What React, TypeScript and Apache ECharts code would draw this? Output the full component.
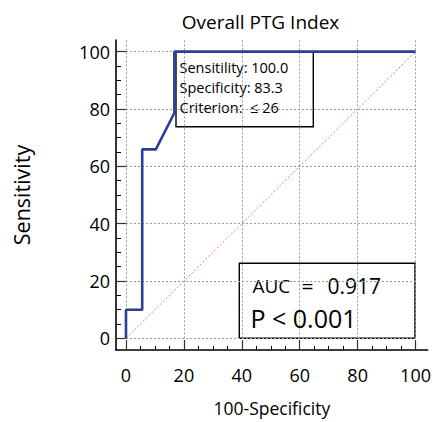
import React, { useEffect, useRef } from "react";
import * as echarts from "echarts";

const MAJOR_TICKS = [0, 20, 40, 60, 80, 100];
const MINOR_TICKS = [5, 10, 15, 25, 30, 35, 45, 50, 55, 65, 70, 75, 85, 90, 95];
const ROC_X = [0, 0, 5.6, 5.6, 10.3, 16.7, 16.7, 100];
const ROC_Y = [0, 10, 10, 65.9, 65.9, 78.6, 100, 100];
const DIAG_X = [0, 100];
const DIAG_Y = [0, 100];
const TITLE = "Overall PTG Index";
const X_NAME = "100-Specificity";
const Y_NAME = "Sensitivity";
const CRIT_LINES = ["Sensitility: 100.0", "Specificity: 83.3", "Criterion:  \u2264 26"];
const AUC_LABEL = "AUC";
const AUC_VALUE = "0.917";
const P_TEXT = "P < 0.001";

const X_MIN = -3.45;
const X_MAX = 104.2;
const Y_MIN = -4.06;
const Y_MAX = 104.06;
const FONT = "Open Sans";

export default function App() {
  const ref = useRef<HTMLDivElement>(null);
  useEffect(() => {
    const chart = echarts.init(ref.current!, null, { renderer: "svg" });
    const gridLines: any[] = [];
    MAJOR_TICKS.forEach((v) => {
      gridLines.push([{ coord: [v, 0] }, { coord: [v, Y_MAX] }]);
      gridLines.push([{ coord: [0, v] }, { coord: [100, v] }]);
    });
    const option: any = {
      animation: false,
      grid: { left: 116, right: 6, top: 40, bottom: 70.3, containLabel: false },
      xAxis: [
        {
          type: "value",
          min: X_MIN,
          max: X_MAX,
          position: "bottom",
          axisLine: { show: true, onZero: false, lineStyle: { color: "#000", width: 1.6 } },
          splitLine: { show: false },
          axisTick: { show: true, inside: true, length: 10, customValues: MAJOR_TICKS, lineStyle: { color: "#333", width: 1.2 } },
          axisLabel: { show: true, customValues: MAJOR_TICKS, fontSize: 18, fontFamily: FONT, color: "#000", margin: 16 },
          name: X_NAME,
          nameLocation: "middle",
          nameGap: 49,
          nameTextStyle: { fontSize: 17.5, fontFamily: FONT, color: "#000" },
        },
        {
          type: "value",
          min: X_MIN,
          max: X_MAX,
          position: "bottom",
          axisLine: { show: false, onZero: false },
          splitLine: { show: false },
          axisTick: { show: true, inside: true, length: 4, customValues: MINOR_TICKS, lineStyle: { color: "#000", width: 1 } },
          axisLabel: { show: false },
        },
      ],
      yAxis: [
        {
          type: "value",
          min: Y_MIN,
          max: Y_MAX,
          position: "left",
          axisLine: { show: true, onZero: false, lineStyle: { color: "#000", width: 1.6 } },
          splitLine: { show: false },
          axisTick: { show: true, inside: true, length: 10, customValues: MAJOR_TICKS, lineStyle: { color: "#333", width: 1.2 } },
          axisLabel: { show: true, customValues: MAJOR_TICKS, fontSize: 18, fontFamily: FONT, color: "#000", margin: 6 },
          name: Y_NAME,
          nameLocation: "middle",
          nameGap: 84,
          nameTextStyle: { fontSize: 21.5, fontFamily: FONT, color: "#000" },
        },
        {
          type: "value",
          min: Y_MIN,
          max: Y_MAX,
          position: "left",
          axisLine: { show: false, onZero: false },
          splitLine: { show: false },
          axisTick: { show: true, inside: true, length: 5, customValues: MINOR_TICKS, lineStyle: { color: "#000", width: 1 } },
          axisLabel: { show: false },
        },
      ],
      series: [
        {
          type: "line",
          xAxisIndex: 0,
          yAxisIndex: 0,
          z: 2,
          silent: true,
          symbol: "none",
          data: DIAG_X.map((x, i) => [x, DIAG_Y[i]]),
          lineStyle: { color: "#ec7b7b", width: 1, type: [2, 2] },
          markLine: {
            silent: true,
            symbol: ["none", "none"],
            label: { show: false },
            lineStyle: { color: "#9a9a9a", width: 1, type: [2, 2] },
            data: gridLines,
          },
        },
        {
          type: "line",
          xAxisIndex: 0,
          yAxisIndex: 0,
          z: 10,
          symbol: "none",
          data: ROC_X.map((x, i) => [x, ROC_Y[i]]),
          lineStyle: { color: "#2c3e98", width: 2.6 },
        },
      ],
      graphic: [
        {
          type: "text",
          x: 260.5,
          y: 22,
          z: 5,
          style: { text: TITLE, fontSize: 19, fontFamily: FONT, fill: "#000", textAlign: "center", textVerticalAlign: "middle" },
        },
        {
          type: "rect",
          z: 3,
          shape: { x: 176, y: 51.7, width: 137.3, height: 75 },
          style: { fill: "#fff", stroke: "#000", lineWidth: 1.4 },
        },
        ...CRIT_LINES.map((t, i) => ({
          type: "text",
          x: 179.5,
          y: 67.3 + i * 20,
          z: 4,
          style: { text: t, fontSize: 14.5, fontFamily: FONT, fill: "#000", textAlign: "left", textVerticalAlign: "middle" },
        })),
        {
          type: "rect",
          z: 3,
          shape: { x: 239.3, y: 263.3, width: 175.7, height: 75 },
          style: { fill: "#fff", stroke: "#000", lineWidth: 1.4 },
        },
        {
          type: "text",
          x: 252.5,
          y: 286,
          z: 4,
          style: { text: AUC_LABEL, fontSize: 19, fontFamily: FONT, fill: "#000", textAlign: "left", textVerticalAlign: "middle" },
        },
        {
          type: "text",
          x: 301.5,
          y: 286,
          z: 4,
          style: { text: "=", fontSize: 21, fontFamily: FONT, fill: "#000", textAlign: "left", textVerticalAlign: "middle" },
        },
        {
          type: "text",
          x: 327.5,
          y: 286,
          z: 4,
          style: { text: AUC_VALUE, fontSize: 21, fontFamily: FONT, fill: "#000", textAlign: "left", textVerticalAlign: "middle" },
        },
        {
          type: "text",
          x: 250.5,
          y: 317.5,
          z: 4,
          style: { text: P_TEXT, fontSize: 25, fontFamily: FONT, fill: "#000", textAlign: "left", textVerticalAlign: "middle" },
        },
      ],
    };
    chart.setOption(option);
    return () => chart.dispose();
  }, []);
  return <div ref={ref} style={{ width: 434, height: 422, position: "absolute", left: 0, top: 0 }} />;
}
